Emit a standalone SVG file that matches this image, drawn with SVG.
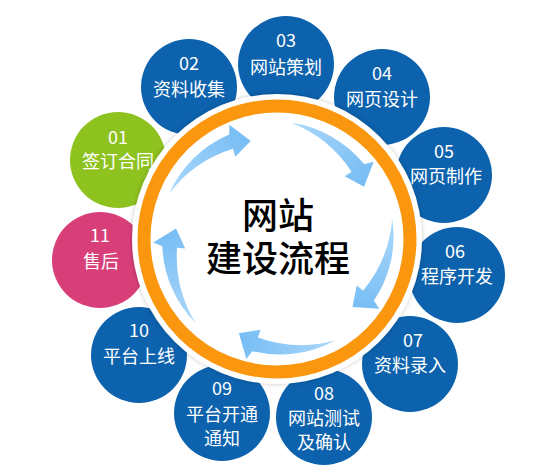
<svg xmlns="http://www.w3.org/2000/svg" width="557" height="475" viewBox="0 0 557 475">
<style>
.n{fill:#0c62ad}
.g{fill:#8dc21f}
.p{fill:#d83f78}
.t{font-family:"Noto Sans CJK SC","Noto Sans",sans-serif;font-size:18px;fill:#fff;text-anchor:middle}
.c{font-family:"Noto Sans CJK SC","Noto Sans",sans-serif;font-size:36px;fill:#000;text-anchor:middle;font-weight:500}
.ar{fill:url(#ag)}
</style>
<defs>
<filter id="sh" x="-20%" y="-20%" width="140%" height="140%">
<feDropShadow dx="0" dy="0" stdDeviation="2" flood-color="#000" flood-opacity="0.25"/>
</filter>
<linearGradient id="ag" x1="117" y1="0" x2="70" y2="80" gradientUnits="userSpaceOnUse">
<stop offset="0" stop-color="#acd8fa"/>
<stop offset="1" stop-color="#78bef5"/>
</linearGradient>
<path id="arw" d="M117,0 A115,115 0 0 1 84.8,77.5 L88.5,86.5 L62.5,80 L70.5,59.5 L75.8,65.8 A128,128 0 0 0 117,0 Z"/>
</defs>
<rect width="557" height="475" fill="#fff"/>
<g id="node01"><circle class="g" cx="118" cy="160" r="48"/><text class="t" x="118" y="143.5">01</text><text class="t" x="118" y="168">签订合同</text></g>
<g id="node02"><circle class="n" cx="189" cy="87" r="48"/><text class="t" x="189" y="70">02</text><text class="t" x="189" y="96">资料收集</text></g>
<g id="node03"><circle class="n" cx="286" cy="64" r="48"/><text class="t" x="286" y="47">03</text><text class="t" x="286" y="74">网站策划</text></g>
<g id="node04"><circle class="n" cx="382" cy="97" r="48"/><text class="t" x="382" y="80">04</text><text class="t" x="382" y="106">网页设计</text></g>
<g id="node05"><circle class="n" cx="444" cy="175" r="48"/><text class="t" x="444" y="158">05</text><text class="t" x="446" y="183">网页制作</text></g>
<g id="node06"><circle class="n" cx="457" cy="275" r="48"/><text class="t" x="455" y="258">06</text><text class="t" x="457" y="283">程序开发</text></g>
<g id="node07"><circle class="n" cx="410" cy="364" r="48"/><text class="t" x="413" y="347">07</text><text class="t" x="410" y="372">资料录入</text></g>
<g id="node08"><circle class="n" cx="324" cy="417" r="48"/><text class="t" x="324" y="400">08</text><text class="t" x="324" y="425">网站测试</text><text class="t" x="324" y="449">及确认</text></g>
<g id="node09"><circle class="n" cx="222" cy="413" r="48"/><text class="t" x="222" y="395">09</text><text class="t" x="222" y="421">平台开通</text><text class="t" x="222" y="445">通知</text></g>
<g id="node10"><circle class="n" cx="139" cy="355" r="48"/><text class="t" x="139" y="337">10</text><text class="t" x="139" y="363">平台上线</text></g>
<g id="node11"><circle class="p" cx="100" cy="260" r="48"/><text class="t" x="100" y="242">11</text><text class="t" x="101" y="268">售后</text></g>
<g id="hub">
<circle cx="277" cy="239" r="145" fill="#fff" filter="url(#sh)"/>
<circle cx="277" cy="239" r="133" fill="#fff" stroke="#fb970f" stroke-width="13"/>
<text class="c"><tspan x="278" y="229">网站</tspan><tspan x="278" y="272">建设流程</tspan></text>
</g>
<g id="connectors" transform="translate(277,239)">
<use href="#arw" class="ar" transform="rotate(203)"/>
<use href="#arw" class="ar" transform="rotate(277)"/>
<use href="#arw" class="ar" transform="rotate(350)"/>
<use href="#arw" class="ar" transform="rotate(60)"/>
<use href="#arw" class="ar" transform="rotate(134)"/>
</g>
</svg>
